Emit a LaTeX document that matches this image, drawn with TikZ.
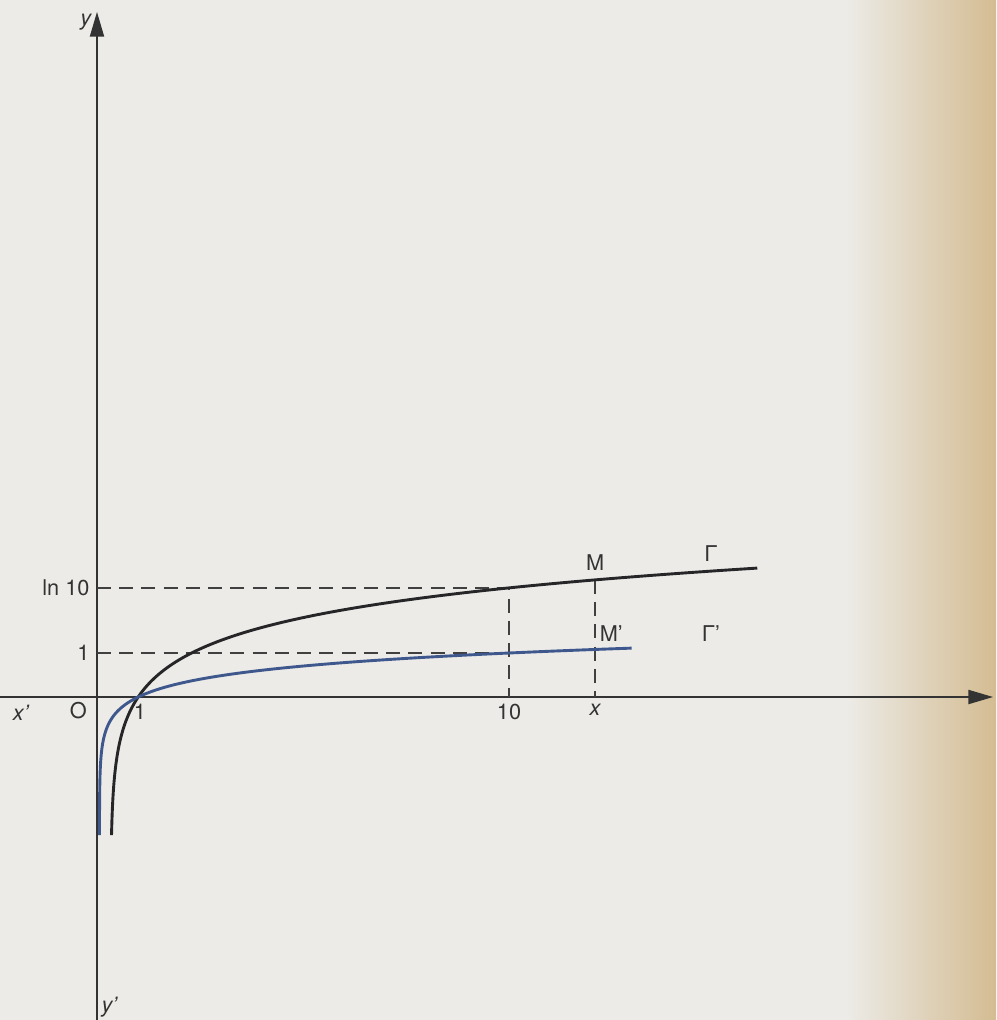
\documentclass[tikz,border=0pt]{standalone}
\usepackage{fontspec}
\setmainfont{TeX Gyre Heros}
\usetikzlibrary{arrows.meta, positioning}
\definecolor{paper}{RGB}{236,235,231}
\definecolor{pagetan}{RGB}{212,188,146}
\definecolor{lncol}{RGB}{38,38,40}
\definecolor{logcol}{RGB}{62,88,142}
\tikzset{
  axis/.style  = {line width=1.3pt, draw=black!80,
                  -{Triangle[length=0.6cm, width=0.34cm]}},
  guide/.style = {line width=1.5pt, draw=black!75,
                  dash pattern=on 0.34cm off 0.2cm},
  curve/.style = {line width=2pt, smooth, samples=200},
  lbl/.style   = {font=\fontsize{15}{17}\selectfont, text=black!80, inner sep=2pt},
  ilbl/.style  = {lbl, font=\fontsize{15}{17}\selectfont\itshape},
}

\begin{document}
\begin{tikzpicture}[x=1cm, y=1.068cm]
  \useasboundingbox (-2.354,-7.34) rectangle (21.82,15.84);
  \fill[paper] (-2.354,-7.34) rectangle (21.82,15.84);
  \shade[left color=paper, right color=pagetan] (18.2,-7.34) rectangle (21.82,15.84);

  % axes
  \coordinate (O) at (0,0);
  \draw[axis] (-2.354,0) -- (21.75,0);
  \draw[axis] (0,-7.34) -- (0,15.57);

  % points of the two curves
  \coordinate (L10) at (0,2.479);
  \coordinate (L1)  at (0,1);
  \coordinate (P10) at (10,2.479);
  \coordinate (Q10) at (10,1);
  \coordinate (T10) at (10,0);
  \coordinate (M)   at (12.09,2.662);
  \coordinate (Mp)  at (12.09,1.081);
  \coordinate (X)   at (12.09,0);

  \draw[guide] (L10) -- (P10) -- (T10);
  \draw[guide] (L1) -- (Q10);
  \draw[guide] (M) -- (X);

  % y = ln x and y = log x
  \draw[curve, lncol]  plot[domain=-3.14:2.93, variable=\t]
    ({0.33+0.67*exp(\t/0.929)}, \t);
  \draw[curve, logcol] plot[domain=-3.14:1.112, variable=\t]
    ({0.06+0.94*exp(\t/0.424)}, \t);

  % labels
  \node[lbl, left=3pt]  (ln10) at (L10) {ln 10};
  \node[lbl, left=3pt]  (one)  at (L1)  {1};
  \node[lbl, below=3pt] (xone) at (1.04,0) {1};
  \node[lbl, below=3pt] (xten) at (T10) {10};
  \node[ilbl, below=3pt] (xx)  at (X)   {x};
  \node[lbl, above=4pt] (mM)   at (M)   {M};
  \node[lbl, above right=3pt and 1pt] (mMp) at (Mp) {M'};
  \node[lbl] (gln)  at (14.9,3.25) {Γ};
  \node[lbl] (glog) at (14.9,1.45) {Γ'};
  \node[lbl]  (o)  at (-0.45,-0.3) {O};
  \node[ilbl] (xp) at (-1.85,-0.35) {x'};
  \node[ilbl] (yy) at (-0.27,15.34) {y};
  \node[ilbl] (yp) at (0.3,-7.05) {y'};
\end{tikzpicture}
\end{document}
